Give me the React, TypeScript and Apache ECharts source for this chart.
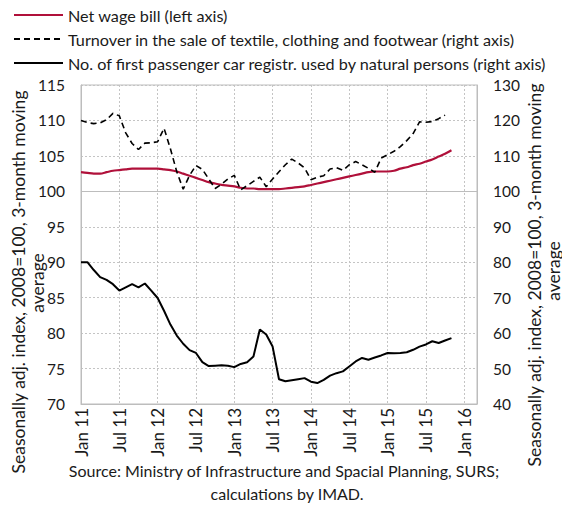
import { useEffect, useRef } from "react";
import * as echarts from "echarts";

const monthNames = ["Jan", "Feb", "Mar", "Apr", "May", "Jun", "Jul", "Aug", "Sep", "Oct", "Nov", "Dec"];
const years = ["11", "12", "13", "14", "15", "16"];
const categories: string[] = years.flatMap((y) => monthNames.map((m) => `${m} ${y}`)).slice(0, 63);

const legendNames = [
  "Net wage bill (left axis)",
  "Turnover in the sale of textile, clothing and footwear (right axis)",
  "No. of first passenger car registr. used by natural persons (right axis)",
];

const netWageBill = [
  102.7, 102.6, 102.5, 102.5, 102.7, 102.9, 103.0, 103.1, 103.2, 103.2, 103.2, 103.2,
  103.2, 103.1, 103.0, 102.8, 102.5, 102.2, 101.9, 101.6, 101.3, 101.1, 100.9, 100.8,
  100.7, 100.5, 100.4, 100.4, 100.3, 100.3, 100.3, 100.3, 100.4, 100.5, 100.6, 100.7,
  100.9, 101.1, 101.3, 101.5, 101.7, 101.9, 102.1, 102.3, 102.5, 102.7, 102.8, 102.8,
  102.8, 102.9, 103.2, 103.4, 103.7, 103.9, 104.2, 104.5, 104.9, 105.3, 105.8,
];

const turnoverTextile = [
  120.0, 119.4, 119.1, 119.3, 120.2, 122.0, 121.3, 116.5, 113.5, 111.8, 113.6, 113.7,
  114.0, 117.8, 112.0, 105.5, 100.6, 104.5, 107.3, 106.2, 103.5, 100.8, 102.0, 103.5,
  104.5, 100.4, 101.6, 102.8, 104.0, 101.3, 103.5, 105.5, 107.5, 109.1, 108.0, 106.6,
  103.3, 104.0, 104.4, 106.3, 106.7, 105.9, 107.5, 108.4, 107.5, 106.5, 105.4, 109.4,
  110.3, 111.3, 112.6, 114.3, 116.3, 119.6, 119.5, 119.7, 120.5, 121.5,
];

const carRegistrations = [
  80.0, 80.0, 77.8, 75.8, 75.0, 73.8, 72.0, 72.9, 73.8, 72.9, 74.0, 72.0,
  69.9, 66.3, 62.4, 59.3, 57.0, 55.2, 54.4, 51.8, 50.7, 50.8, 50.9, 50.8,
  50.4, 51.3, 51.8, 53.4, 61.0, 59.6, 56.2, 47.0, 46.4, 46.7, 47.0, 47.3,
  46.3, 45.9, 46.8, 48.0, 48.7, 49.2, 50.6, 52.0, 53.0, 52.5, 53.1, 53.7,
  54.4, 54.3, 54.4, 54.6, 55.3, 56.2, 56.8, 57.7, 57.2, 57.9, 58.6,
];

const axisTitle = ["Seasonally adj. index, 2008=100, 3-month moving", "average"];
const sourceLines = ["Source: Ministry of Infrastructure and Spacial Planning, SURS;", "calculations by IMAD."];

const FONT = "Lato";
const TEXT = "#1a1a1a";
const GRID = "#c4c4c4";
const BORDER = "#bdbdbd";
const RED = "#b0103a";

export default function App() {
  const ref = useRef<HTMLDivElement>(null);
  useEffect(() => {
    if (!ref.current) return;
    const chart = echarts.init(ref.current, undefined, { renderer: "svg" });
    const every6 = (i: number) => i % 6 === 0;
    const textStyle = (text: string, fontSize: number) => ({
      text,
      fontFamily: FONT,
      fontSize,
      fill: TEXT,
      align: "center",
      verticalAlign: "middle",
    });
    chart.setOption({
      animation: false,
      textStyle: { fontFamily: FONT },
      legend: {
        orient: "vertical",
        left: 13,
        top: 7,
        itemWidth: 49,
        itemHeight: 14,
        itemGap: 8,
        padding: 0,
        itemStyle: { opacity: 0 },
        textStyle: { fontFamily: FONT, fontSize: 16.2, color: TEXT },
        data: legendNames,
      },
      grid: {
        left: 81,
        top: 85,
        width: 396,
        height: 319,
        show: true,
        borderColor: BORDER,
        borderWidth: 1,
      },
      xAxis: {
        type: "category",
        data: categories,
        boundaryGap: false,
        axisLine: { lineStyle: { color: BORDER } },
        axisTick: { show: false },
        axisLabel: {
          interval: (i: number) => every6(i),
          rotate: 90,
          margin: 4,
          fontFamily: FONT,
          fontSize: 17,
          color: TEXT,
        },
        splitLine: {
          show: true,
          interval: (i: number) => every6(i),
          lineStyle: { color: GRID, type: [2, 2], width: 1 },
        },
      },
      yAxis: [
        {
          type: "value",
          min: 70,
          max: 115,
          interval: 5,
          axisLine: { show: true, lineStyle: { color: BORDER } },
          axisTick: { show: false },
          axisLabel: { margin: 16, fontFamily: FONT, fontSize: 15.5, color: TEXT },
          splitLine: { show: true, lineStyle: { color: GRID, type: [2, 2], width: 1 } },
        },
        {
          type: "value",
          min: 40,
          max: 130,
          interval: 10,
          position: "right",
          axisLine: { show: true, lineStyle: { color: BORDER } },
          axisTick: { show: false },
          axisLabel: { margin: 16, fontFamily: FONT, fontSize: 15.5, color: TEXT },
          splitLine: { show: false },
        },
      ],
      series: [
        {
          name: legendNames[0],
          type: "line",
          yAxisIndex: 0,
          data: netWageBill,
          symbol: "none",
          smooth: 0.3,
          lineStyle: { color: RED, width: 2.2 },
          itemStyle: { color: RED },
          z: 3,
          markLine: {
            silent: true,
            symbol: "none",
            label: { show: false },
            lineStyle: { color: BORDER, type: "solid", width: 1 },
            data: [{ yAxis: 100 }],
            z: 1,
          },
        },
        {
          name: legendNames[1],
          type: "line",
          yAxisIndex: 1,
          data: turnoverTextile,
          symbol: "none",
          lineStyle: { color: "#000", width: 1.6, type: [6, 4] },
          itemStyle: { color: "#000" },
          z: 4,
        },
        {
          name: legendNames[2],
          type: "line",
          yAxisIndex: 1,
          data: carRegistrations,
          symbol: "none",
          lineStyle: { color: "#000", width: 2 },
          itemStyle: { color: "#000" },
          z: 4,
        },
      ],
      graphic: [
        { type: "text", x: 18, y: 282, rotation: Math.PI / 2, style: textStyle(axisTitle[0], 17.5) },
        { type: "text", x: 37.5, y: 283, rotation: Math.PI / 2, style: textStyle(axisTitle[1], 17.5) },
        { type: "text", x: 534, y: 275, rotation: Math.PI / 2, style: textStyle(axisTitle[0], 17.5) },
        { type: "text", x: 553, y: 271, rotation: Math.PI / 2, style: textStyle(axisTitle[1], 17.5) },
        { type: "text", x: 284, y: 470, style: textStyle(sourceLines[0], 16) },
        { type: "text", x: 287, y: 493, style: textStyle(sourceLines[1], 16) },
      ],
    });
    return () => chart.dispose();
  }, []);
  return (
    <div
      ref={ref}
      style={{ position: "fixed", left: 0, top: 0, width: 562, height: 505, background: "#fff" }}
    />
  );
}
